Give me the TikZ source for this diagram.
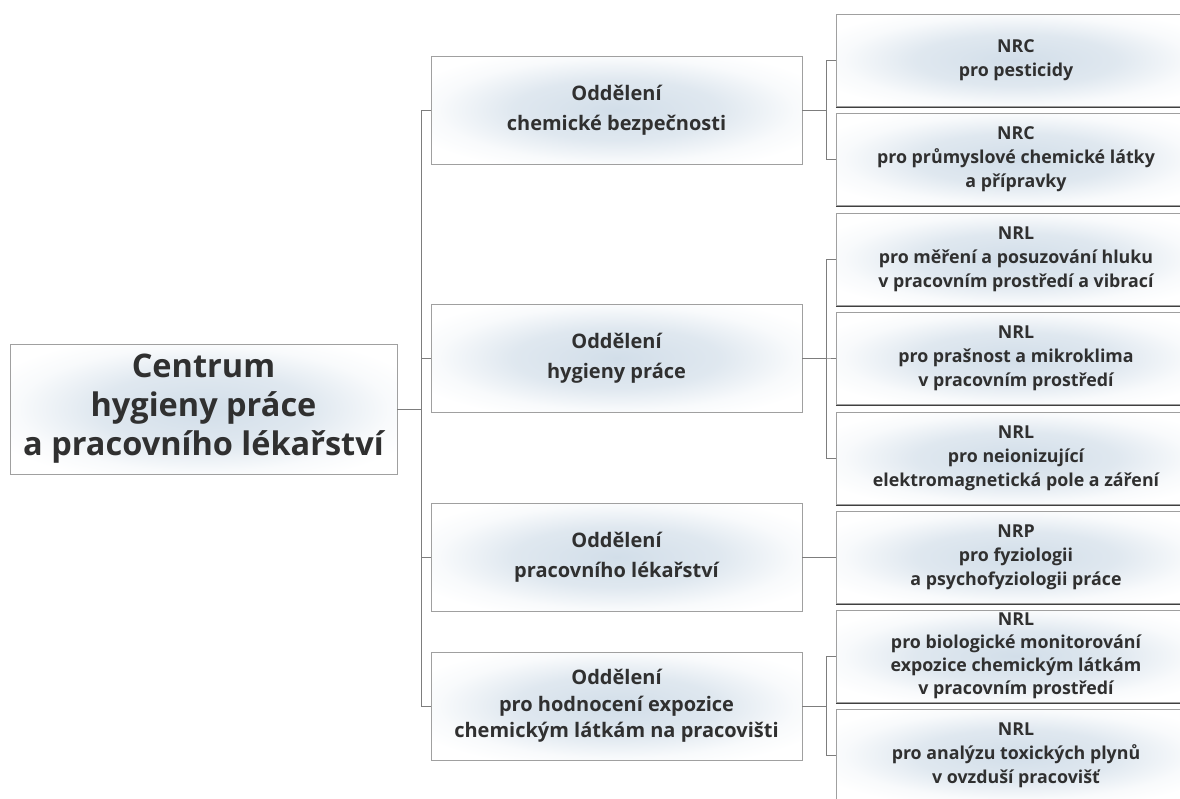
\documentclass[tikz,border=0pt]{standalone}
\usepackage{fontspec}
\setmainfont{Open Sans}
\usetikzlibrary{shadows}
\definecolor{glow}{RGB}{210,222,233}
\definecolor{boxline}{RGB}{160,160,160}
\definecolor{linkgray}{RGB}{125,125,125}
\definecolor{inkgray}{RGB}{48,48,48}
\pgfdeclareradialshading{boxglow}{\pgfpoint{0bp}{0bp}}{color(0bp)=(glow); color(14bp)=(glow!70!white); color(24bp)=(glow!15!white); color(30bp)=(white); color(50bp)=(white)}
\begin{document}
\begin{tikzpicture}[x=1pt,y=-1pt,
    unit/.style={draw=boxline, shading=boxglow, align=center, text=inkgray, inner sep=0pt},
    rootbox/.style={unit, minimum width=387pt, minimum height=130pt, font=\fontsize{32.5}{39}\selectfont\bfseries},
    deptbox/.style={unit, minimum width=371pt, minimum height=108pt, font=\fontsize{20}{30.5}\selectfont\bfseries},
    labbox/.style={unit, minimum width=360pt, minimum height=92pt, font=\fontsize{17.8}{24}\selectfont\bfseries,
      drop shadow={shadow xshift=0pt, shadow yshift=-2pt, opacity=1, fill=black!75}},
    link/.style={draw=linkgray, line width=0.8pt}]
  \useasboundingbox (0,0) rectangle (1180,798);
  % centrum
  \node[rootbox] (centrum) at (203.5,409) {Centrum\\hygieny práce\\a pracovního lékařství};
  % oddeleni
  \node[deptbox] (chem) at (616.5,110) {Oddělení\\chemické bezpečnosti};
  \node[deptbox] (hyg) at (616.5,358) {Oddělení\\hygieny práce};
  \node[deptbox] (lek) at (616.5,557) {Oddělení\\pracovního lékařství};
  \node[deptbox, font=\fontsize{20}{26.5}\selectfont\bfseries] (expo) at (616.5,706) {Oddělení\\pro hodnocení expozice\\chemickým látkám na pracovišti};
  % referencni laboratore
  \node[labbox] (pest) at (1016,60) {NRC\\pro pesticidy};
  \node[labbox] (prum) at (1016,159) {NRC\\pro průmyslové chemické látky\\a přípravky};
  \node[labbox] (hluk) at (1016,259) {NRL\\pro měření a posuzování hluku\\v pracovním prostředí a vibrací};
  \node[labbox] (prach) at (1016,358) {NRL\\pro prašnost a mikroklima\\v pracovním prostředí};
  \node[labbox] (pole) at (1016,458) {NRL\\pro neionizující\\elektromagnetická pole a záření};
  \node[labbox] (fyz) at (1016,557) {NRP\\pro fyziologii\\a psychofyziologii práce};
  \node[labbox, font=\fontsize{17.8}{23}\selectfont\bfseries] (bio) at (1016,656) {NRL\\pro biologické monitorování\\expozice chemickým látkám\\v pracovním prostředí};
  \node[labbox] (plyn) at (1016,755) {NRL\\pro analýzu toxických plynů\\v ovzduší pracovišť};
  % spojnice
  \draw[link] (centrum.east) -- ++(24,0) |- (chem.west);
  \draw[link] (centrum.east) -- ++(24,0) |- (hyg.west);
  \draw[link] (centrum.east) -- ++(24,0) |- (lek.west);
  \draw[link] (centrum.east) -- ++(24,0) |- (expo.west);
  \draw[link] (chem.east) -- ++(24,0) |- (pest.west);
  \draw[link] (chem.east) -- ++(24,0) |- (prum.west);
  \draw[link] (hyg.east) -- ++(24,0) |- (hluk.west);
  \draw[link] (hyg.east) -- ++(24,0) |- (prach.west);
  \draw[link] (hyg.east) -- ++(24,0) |- (pole.west);
  \draw[link] (lek.east) -- (fyz.west);
  \draw[link] (expo.east) -- ++(24,0) |- (bio.west);
  \draw[link] (expo.east) -- ++(24,0) |- (plyn.west);
\end{tikzpicture}
\end{document}
